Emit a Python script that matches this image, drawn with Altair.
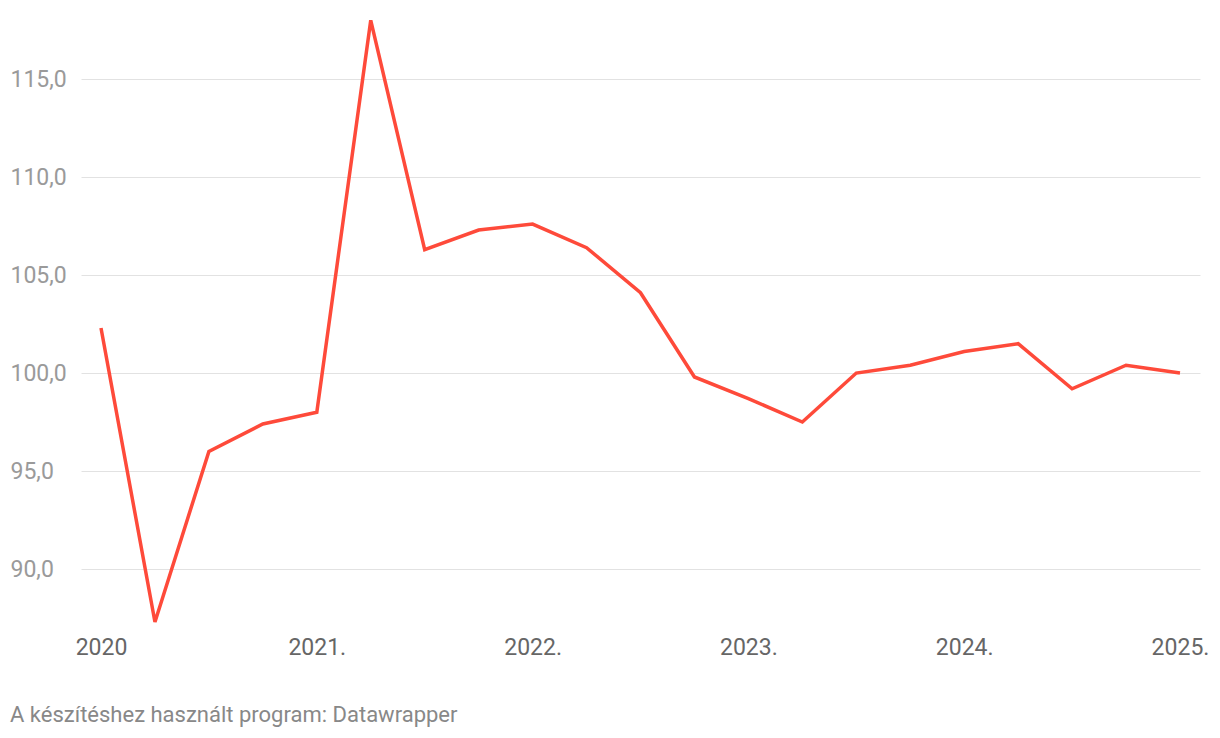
import altair as alt
import pandas as pd

years = [2020]*4 + [2021]*4 + [2022]*4 + [2023]*4 + [2024]*4 + [2025]
quarters = [1, 2, 3, 4]*5 + [1]
values = [102.3, 87.3, 96.0, 97.4,
          98.0, 118.0, 106.3, 107.3,
          107.6, 106.4, 104.1, 99.8,
          98.7, 97.5, 100.0, 100.4,
          101.1, 101.5, 99.2, 100.4,
          100.0]
x_ticks = [2020, 2021, 2022, 2023, 2024, 2025]
y_ticks = [90, 95, 100, 105, 110, 115]

df = pd.DataFrame({
    "t": [y + (q - 1) / 4 for y, q in zip(years, quarters)],
    "value": values,
})

FONT = "Roboto"

chart = alt.Chart(df).mark_line(color="#fe4a3a", strokeWidth=3.5).encode(
    x=alt.X("t:Q",
            scale=alt.Scale(domain=[2019.9073, 2025.0927], nice=False, zero=False),
            axis=alt.Axis(values=x_ticks, grid=False, domain=False, ticks=False,
                          labelExpr="datum.value == 2020 ? '2020' : datum.value + '.'",
                          labelFont=FONT, labelFontSize=23, labelColor="#666666",
                          labelPadding=6, title=None, labelFlush=False)),
    y=alt.Y("value:Q",
            scale=alt.Scale(domain=[86.89, 118.27], nice=False, zero=False),
            axis=alt.Axis(values=y_ticks, grid=True, gridColor="#e2e2e2", gridWidth=1,
                          domain=False, ticks=False,
                          labelExpr="replace(format(datum.value, '.1f'), '.', ',')",
                          labelFont=FONT, labelFontSize=23, labelColor="#9a9a9a",
                          labelAlign="left", labelPadding=71, title=None)),
).properties(
    width=1119,
    height=615,
    autosize=alt.AutoSizeParams(type="none"),
    padding={"left": 73, "top": 7, "right": 12, "bottom": 100},
    title=alt.TitleParams(
        "A készítéshez használt program: Datawrapper",
        orient="bottom", anchor="start", offset=46,
        font=FONT, fontSize=22, fontWeight="normal", color="#888888",
    ),
).configure_view(stroke=None)

chart.save("out.html", embed_options={"renderer": "svg", "actions": False})
